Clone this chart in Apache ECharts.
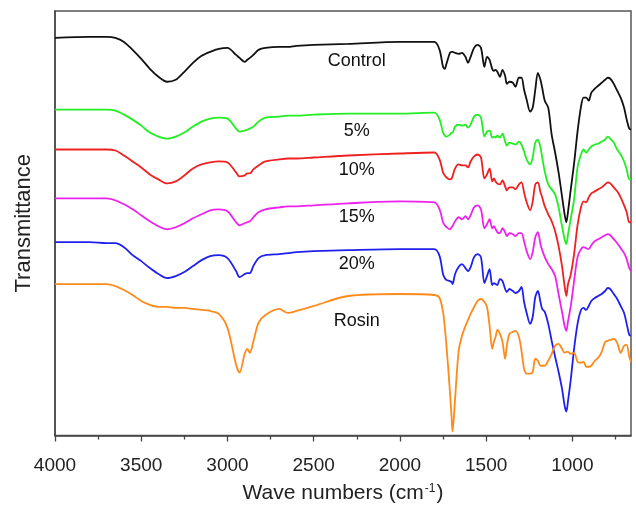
<!DOCTYPE html>
<html>
<head>
<meta charset="utf-8">
<script src="https://cdn.jsdelivr.net/npm/echarts@6/dist/echarts.min.js"></script>
<style>
  html, body { margin: 0; padding: 0; background: #fff; }
  #main { width: 636px; height: 509px; }
</style>
</head>
<body>
<div id="main"></div>
<script>
// wave numbers (cm-1), shared by all spectra
const waveNumbers = [4000, 3800, 3700, 3650, 3600, 3550, 3500, 3450, 3400, 3350, 3300, 3250, 3200, 3150, 3100, 3050, 3000, 2950, 2930, 2900, 2885, 2870, 2850, 2820, 2780, 2700, 2650, 2600, 2500, 2300, 2000,
  1800, 1770, 1750, 1740, 1730, 1710, 1700, 1695, 1680, 1660, 1640, 1620, 1605, 1590, 1570, 1550, 1530, 1510, 1495, 1480, 1465, 1455, 1445, 1435, 1420, 1405, 1390, 1380, 1365, 1345, 1330, 1310, 1295, 1280, 1265, 1245, 1230, 1215, 1200, 1185, 1175, 1160, 1140, 1120, 1100, 1080, 1060, 1045, 1035, 1025, 1010, 990, 970, 950, 935, 920, 905, 890, 870, 850, 830, 810, 795, 780, 760, 740, 720, 700, 685, 670, 660];

// transmittance (arbitrary units, spectra stacked with offsets)
const control = [399, 400, 400, 399, 395, 387, 378, 368, 360, 355, 357, 365, 374, 381, 385, 388, 389, 382, 379, 375, 377, 379, 382, 387, 389, 390, 390, 391, 392, 393, 395,
  395, 387, 370, 368, 373, 384, 385, 385, 384, 383, 384, 380, 374, 380, 389, 392, 389, 370, 380, 377, 368, 366, 367, 365, 360, 367, 361, 353, 355, 354, 350, 359, 359, 347, 337, 325, 329, 347, 364, 357, 349, 336, 329, 302, 284, 264, 240, 222, 214, 225, 246, 273, 305, 330, 339, 339, 336, 344, 348, 351, 354, 357, 359, 358, 353, 346, 339, 329, 317, 308, 307];
const pct5 = [327, 327, 327, 326, 322, 317, 311, 304, 300, 298, 300, 304, 310, 315, 318, 319, 318, 308, 305, 306, 307, 308, 310, 315, 319, 320, 321, 321, 322, 323, 323,
  324, 317, 304, 301, 300, 302, 304, 304, 310, 312, 311, 312, 309, 312, 320, 322, 319, 300, 305, 306, 299, 300, 299, 301, 299, 303, 295, 291, 294, 293, 292, 295, 292, 285, 277, 272, 279, 294, 297, 289, 279, 265, 252, 247, 242, 229, 210, 197, 192, 202, 217, 237, 269, 282, 287, 284, 287, 290, 292, 293, 295, 297, 300, 298, 294, 287, 282, 275, 267, 257, 257];
const pct10 = [287, 287, 287, 286, 281, 275, 269, 262, 257, 253, 255, 261, 268, 272, 274, 275, 274, 264, 260, 261, 263, 263, 267, 271, 275, 277, 278, 278, 279, 281, 283,
  284, 277, 264, 261, 259, 257, 258, 260, 268, 272, 271, 271, 269, 275, 280, 282, 279, 258, 262, 268, 255, 258, 255, 253, 252, 256, 250, 246, 249, 249, 247, 252, 254, 244, 234, 226, 235, 252, 254, 244, 239, 230, 222, 215, 205, 190, 170, 150, 140, 152, 161, 182, 211, 229, 235, 234, 239, 243, 245, 247, 249, 252, 254, 253, 249, 245, 239, 231, 224, 214, 214];
const pct15 = [238, 238, 238, 236, 232, 227, 221, 215, 210, 207, 209, 213, 218, 222, 226, 227, 225, 214, 211, 213, 214, 215, 219, 224, 227, 229, 230, 230, 231, 233, 235,
  234, 227, 214, 211, 209, 207, 209, 210, 215, 219, 217, 220, 217, 221, 229, 231, 227, 208, 212, 217, 208, 210, 207, 204, 203, 208, 204, 200, 203, 202, 200, 203, 203, 195, 185, 177, 184, 199, 204, 192, 186, 179, 172, 167, 160, 142, 124, 110, 105, 115, 129, 155, 179, 187, 189, 188, 187, 191, 195, 197, 199, 201, 202, 201, 197, 193, 188, 183, 177, 168, 165];
const pct20 = [194, 194, 193, 193, 189, 181, 175, 168, 162, 158, 160, 164, 170, 176, 180, 181, 178, 165, 159, 162, 163, 163, 170, 178, 181, 182, 183, 184, 185, 186, 187,
  187, 180, 162, 158, 156, 155, 154, 152, 162, 169, 172, 168, 165, 169, 179, 182, 179, 153, 160, 167, 151, 153, 152, 151, 157, 155, 147, 144, 147, 145, 143, 145, 149, 134, 123, 112, 119, 139, 145, 134, 127, 124, 112, 95, 79, 64, 47, 30, 24, 35, 55, 87, 112, 126, 128, 126, 130, 135, 138, 140, 142, 145, 148, 147, 142, 137, 130, 123, 112, 101, 100];
const rosin = [152, 152, 152, 150, 146, 141, 135, 131, 129, 129, 128, 128, 127, 126, 125, 122, 108, 71, 63, 82, 87, 83, 94, 113, 121, 127, 123, 125, 130, 140, 142,
  141, 138, 124, 109, 90, 44, 17, 4, 37, 84, 100, 110, 116, 122, 129, 135, 137, 134, 129, 110, 87, 94, 99, 106, 102, 94, 77, 90, 102, 104, 105, 99, 85, 67, 62, 62, 64, 77, 75, 70, 70, 70, 75, 82, 90, 92, 87, 83, 84, 84, 82, 83, 74, 73, 74, 69, 69, 70, 75, 78, 84, 94, 95, 96, 97, 93, 83, 90, 91, 79, 74];

const seriesNames = ['Control', '5%', '10%', '15%', '20%', 'Rosin'];
const seriesColors = ['#111111', '#22ee22', '#ee2020', '#ee22ee', '#2020ee', '#ff8a1a'];
// where each curve's name is written (wave number, transmittance)
const labelSpots = [[2250, 376], [2250, 306], [2250, 266], [2250, 219], [2250, 172], [2250, 115]];

const majorTicks = [1000, 1500, 2000, 2500, 3000, 3500, 4000];
const minorTicks = [750, 1250, 1750, 2250, 2750, 3250, 3750];

const spectra = [control, pct5, pct10, pct15, pct20, rosin];

var myChart = echarts.init(document.getElementById('main'));

const font = "'Liberation Sans', Arial, sans-serif";

myChart.setOption({
  animation: false,
  grid: {
    left: 55, right: 5, top: 11, bottom: 72,
    show: true, borderColor: '#555', borderWidth: 1.5
  },
  xAxis: [{
    type: 'value',
    inverse: true,
    min: 660, max: 4000,
    name: 'Wave numbers (cm{sup|-1})',
    nameLocation: 'middle',
    nameGap: 47,
    nameTextStyle: {
      fontFamily: font, fontSize: 21, color: '#222',
      rich: { sup: { fontFamily: font, fontSize: 12, color: '#222', verticalAlign: 'top', padding: [0, 1, 10, 1] } }
    },
    axisLine: { lineStyle: { color: '#444', width: 1.5 } },
    axisTick: { length: 6, customValues: majorTicks, lineStyle: { color: '#444', width: 1.3 } },
    axisLabel: {
      customValues: majorTicks,
      formatter: (v) => String(v),
      fontFamily: font, fontSize: 19, color: '#222', margin: 21
    },
    splitLine: { show: false }
  }, {
    type: 'value',
    inverse: true,
    position: 'bottom',
    min: 660, max: 4000,
    axisLine: { show: false },
    axisTick: { length: 4, customValues: minorTicks, lineStyle: { color: '#444', width: 1.3 } },
    axisLabel: { show: false },
    splitLine: { show: false }
  }],
  yAxis: {
    type: 'value',
    min: 0, max: 426,
    name: 'Transmittance',
    nameLocation: 'middle',
    nameGap: 20,
    nameTextStyle: { fontFamily: font, fontSize: 22, color: '#222' },
    axisLine: { show: true, lineStyle: { color: '#444', width: 1.5 } },
    axisTick: { show: false },
    axisLabel: { show: false },
    splitLine: { show: false }
  },
  series: spectra.map((vals, i) => ({
    name: seriesNames[i],
    type: 'line',
    xAxisIndex: 0,
    data: waveNumbers.map((w, k) => [w, vals[k]]),
    showSymbol: false,
    smooth: 0.3,
    lineStyle: { color: seriesColors[i], width: 1.8 },
    markPoint: {
      symbol: 'circle',
      symbolSize: 1,
      itemStyle: { color: 'transparent' },
      label: {
        show: true, position: 'inside', formatter: '{b}',
        fontFamily: font, fontSize: 18, color: '#111'
      },
      data: [{ name: seriesNames[i], coord: labelSpots[i] }]
    }
  }))
});
</script>
</body>
</html>
